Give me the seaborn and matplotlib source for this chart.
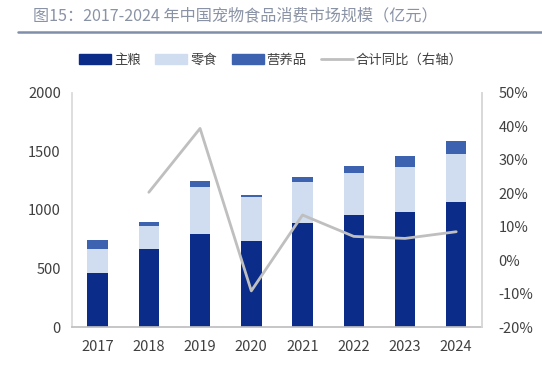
import matplotlib
matplotlib.use("Agg")
import matplotlib.pyplot as plt
import seaborn as sns
import numpy as np
import pandas as pd
from matplotlib.patches import Patch
from matplotlib.lines import Line2D
from matplotlib.ticker import FuncFormatter

years = ["2017", "2018", "2019", "2020", "2021", "2022", "2023", "2024"]
staple = [459, 667, 795, 738, 892, 955, 983, 1068]      # 主粮
snack = [208, 199, 399, 373, 345, 361, 382, 411]        # 零食
nutrition = [77, 29, 51, 20, 45, 57, 97, 108]           # 营养品
growth = [np.nan, 20.3, 39.4, -9.2, 13.5, 7.1, 6.5, 8.5]  # 合计同比（右轴）, %

sns.set_theme(style="white")
plt.rcParams['font.family'] = ['Noto Sans CJK SC', 'DejaVu Sans']

c_staple = "#0B2D89"
c_snack = "#D0DCF0"
c_nut = "#3D62B0"
c_line = "#BFBFBF"
c_text = "#404040"

df = pd.DataFrame({"year": years, "staple": staple, "snack": snack, "nutrition": nutrition})
df["s1"] = df["staple"] + df["snack"]
df["total"] = df["s1"] + df["nutrition"]

fig = plt.figure(figsize=(5.42, 3.69), dpi=100)
ax = fig.add_axes([0.1328, 0.1138, 0.7562, 0.6342])

sns.barplot(data=df, x="year", y="total", color=c_nut, width=0.4, ax=ax, saturation=1, edgecolor="none")
sns.barplot(data=df, x="year", y="s1", color=c_snack, width=0.4, ax=ax, saturation=1, edgecolor="none")
sns.barplot(data=df, x="year", y="staple", color=c_staple, width=0.4, ax=ax, saturation=1, edgecolor="none")

ax.set_xlim(-0.5, len(years) - 0.5)
ax.set_ylim(0, 2000)
ax.set_yticks([0, 500, 1000, 1500, 2000])
ax.set_xlabel("")
ax.set_ylabel("")
ax.spines["top"].set_visible(False)
ax.spines["left"].set_color("#D9D9D9")
ax.spines["right"].set_color("#D9D9D9")
ax.spines["bottom"].set_color("#BFBFBF")
ax.tick_params(axis="both", length=0, labelsize=10.5, labelcolor=c_text, pad=8)
ax.tick_params(axis="x", pad=9)

ax2 = ax.twinx()
gdf = pd.DataFrame({"pos": np.arange(len(years)), "growth": growth})
sns.lineplot(data=gdf, x="pos", y="growth", color=c_line, linewidth=2, ax=ax2)
ax2.set_ylim(-20, 50)
ax2.set_yticks(np.arange(-20, 51, 10))
ax2.yaxis.set_major_formatter(FuncFormatter(lambda v, p: f"{int(v)}%"))
ax2.set_ylabel("")
ax2.set_xlabel("")
ax2.spines["top"].set_visible(False)
ax2.spines["left"].set_visible(False)
ax2.spines["bottom"].set_visible(False)
ax2.spines["right"].set_color("#D9D9D9")
ax2.tick_params(axis="y", length=0, labelsize=10.5, labelcolor=c_text, pad=12)
ax2.grid(False)
ax.set_xlim(-0.5, len(years) - 0.5)

# Title
fig.text(0.061, 0.957, "图15：2017-2024 年中国宠物食品消费市场规模（亿元）",
         fontsize=11.6, color="#8A93A6", va="center", ha="left")
fig.add_artist(Line2D([0.033, 1.0], [0.914, 0.914], color="#7F8FA9", linewidth=1.8,
                      transform=fig.transFigure))

handles = [Patch(color=c_staple), Patch(color=c_snack), Patch(color=c_nut),
           Line2D([], [], color=c_line, linewidth=2)]
labels = ["主粮", "零食", "营养品", "合计同比（右轴）"]
fig.legend(handles, labels, loc="center", bbox_to_anchor=(0.5, 0.838), ncol=4,
           frameon=False, fontsize=9.6, handlelength=2.4, handleheight=0.7,
           handletextpad=0.2, columnspacing=1.1, labelcolor=c_text)

fig.savefig("out.png", dpi=100)
